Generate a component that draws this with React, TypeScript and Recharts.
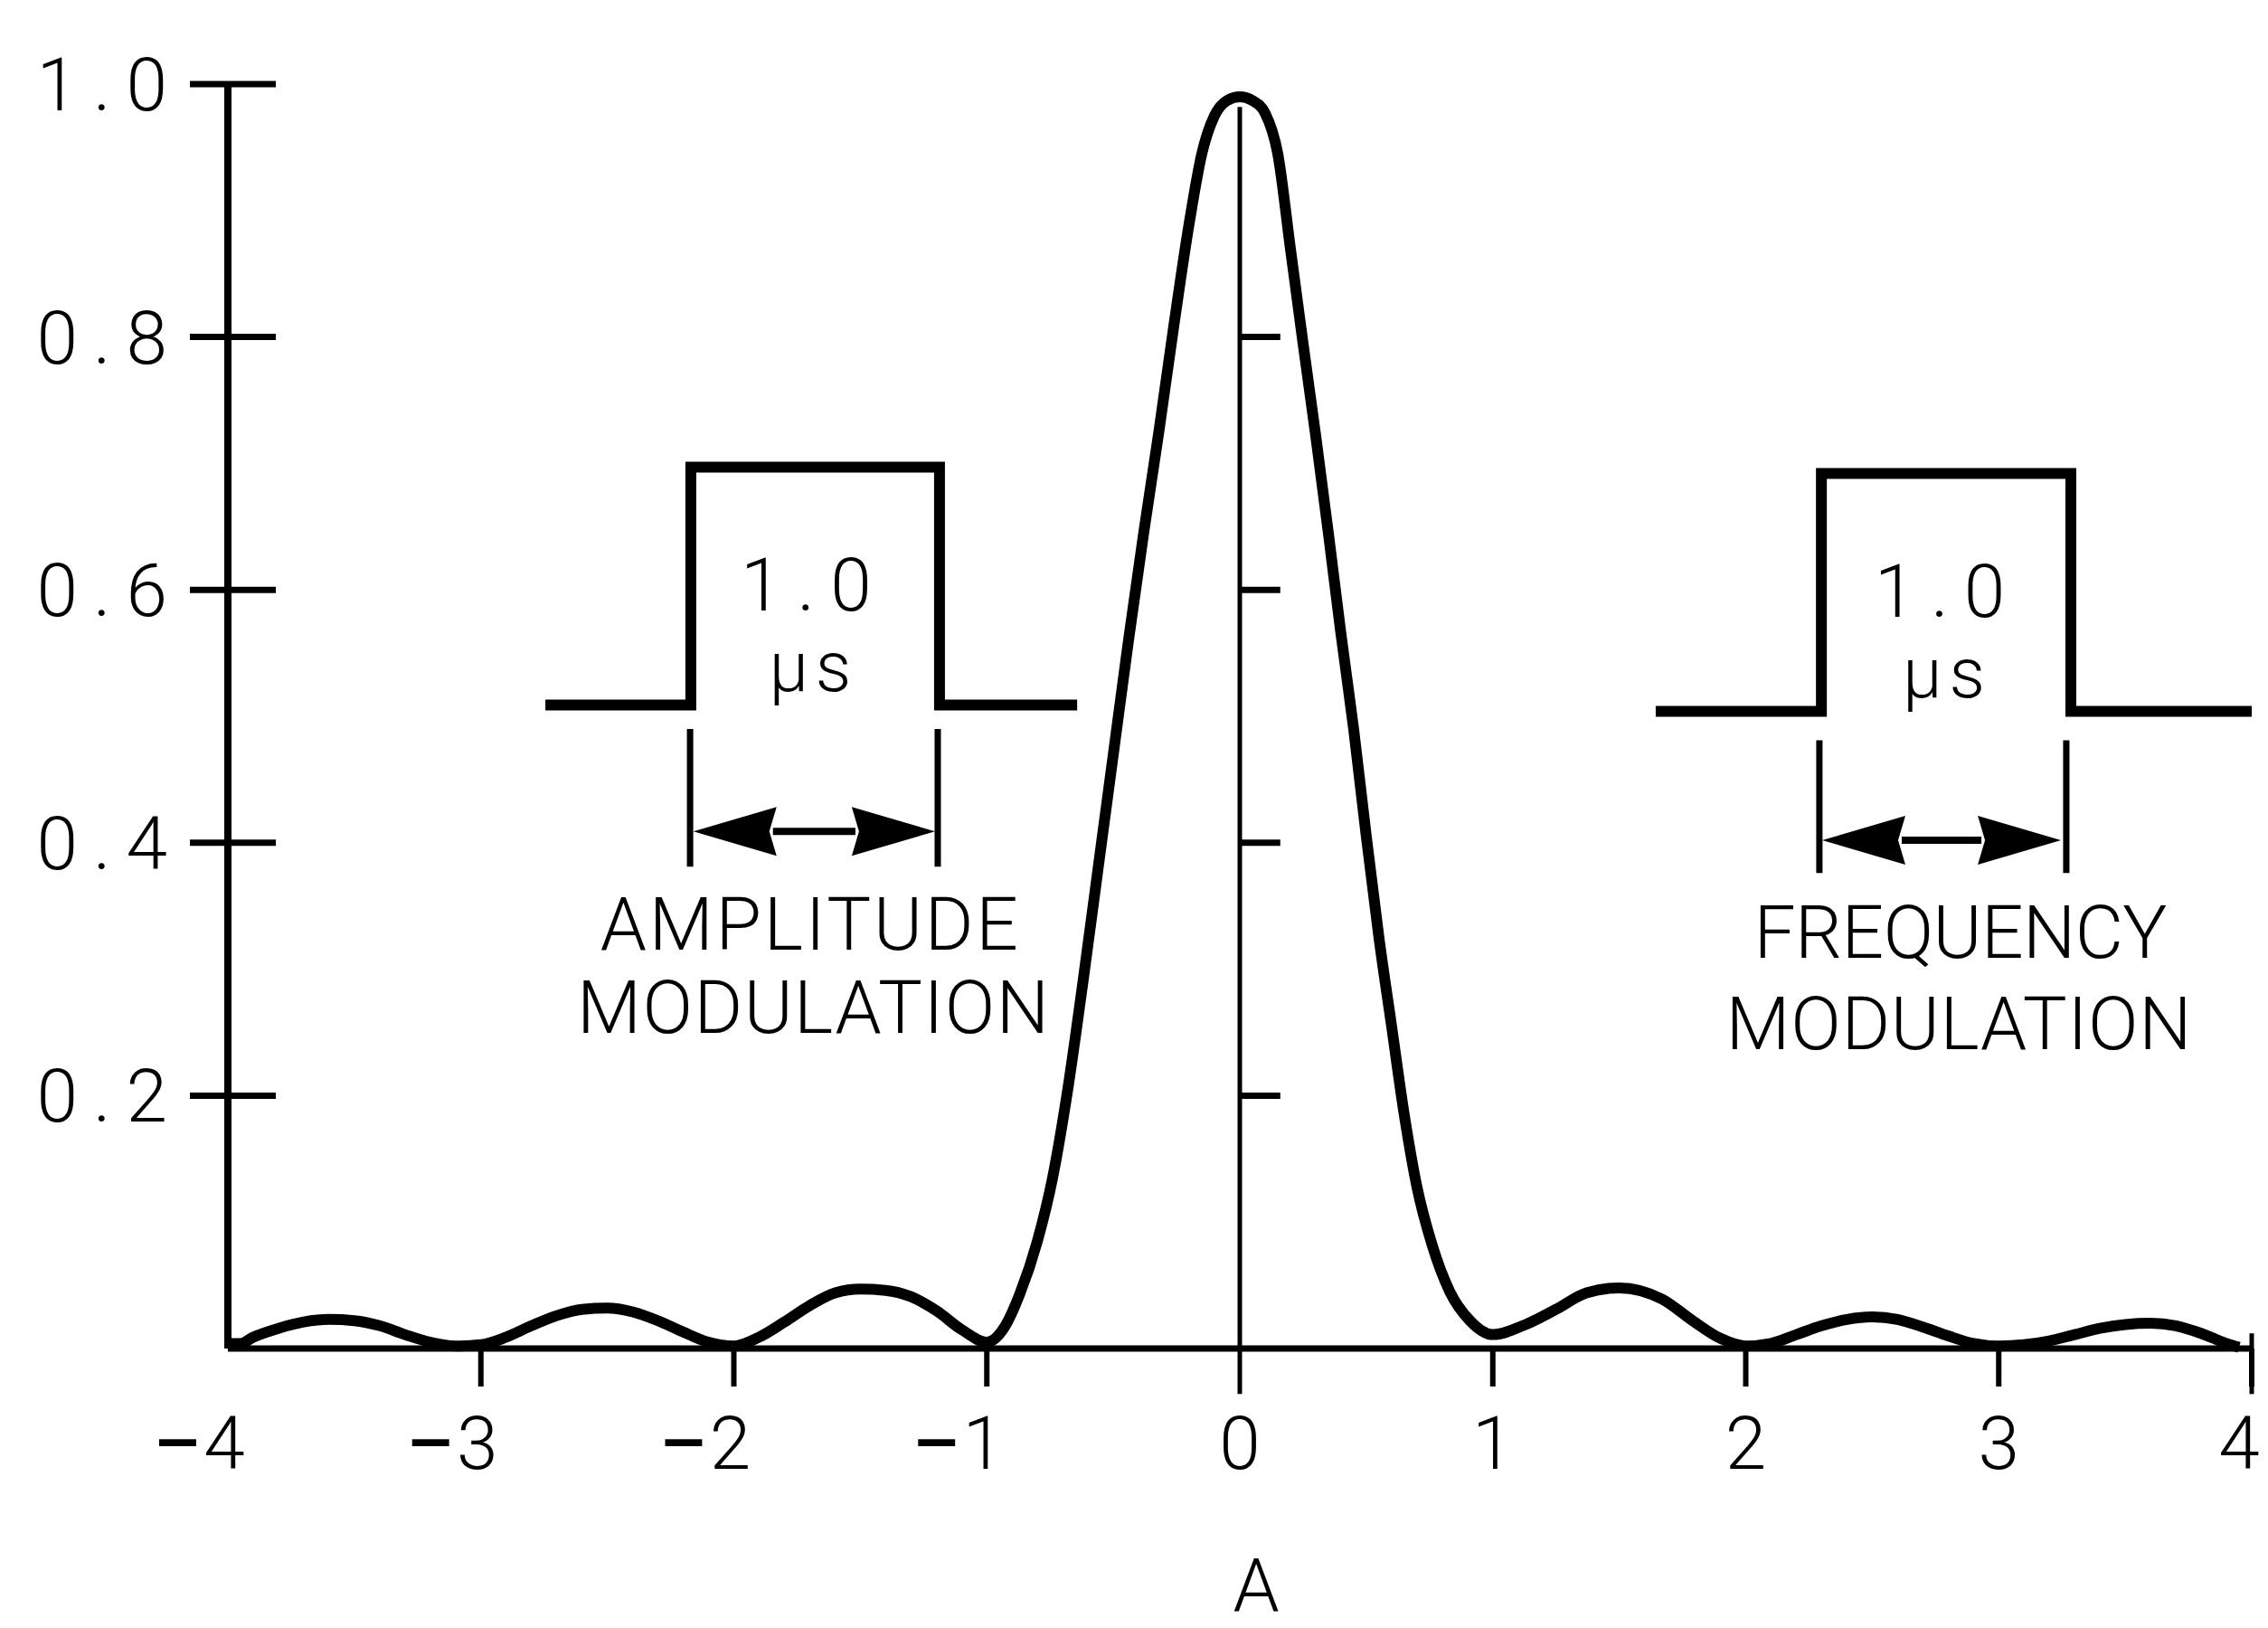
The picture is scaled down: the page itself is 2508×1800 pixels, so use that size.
import React from 'react';
import { LineChart, Line, XAxis, YAxis, ReferenceLine, ReferenceDot } from 'recharts';

// ---- data ----
const xTicks = [-4, -3, -2, -1, 0, 1, 2, 3, 4];
const yTicks = [0.2, 0.4, 0.6, 0.8, 1.0];

const delays = [
  -4.0, -3.95, -3.9, -3.8, -3.7, -3.6, -3.5, -3.4, -3.3, -3.2, -3.1, -3.0,
  -2.9, -2.8, -2.7, -2.6, -2.5, -2.4, -2.3, -2.2, -2.1, -2.0,
  -1.9, -1.8, -1.7, -1.6, -1.5, -1.4, -1.3, -1.2, -1.1, -1.0,
  -0.93, -0.87, -0.8, -0.74, -0.68, -0.62, -0.56, -0.5, -0.44, -0.38,
  -0.32, -0.26, -0.2, -0.15, -0.1, -0.05, 0.0,
  0.05, 0.1, 0.15, 0.2, 0.25, 0.3, 0.35, 0.4, 0.45, 0.5,
  0.55, 0.6, 0.65, 0.7, 0.76, 0.83, 0.91, 1.0,
  1.13, 1.25, 1.37, 1.5, 1.67, 1.79, 1.9, 2.0,
  2.1, 2.2, 2.3, 2.4, 2.5, 2.6, 2.7, 2.8, 2.9, 3.0,
  3.1, 3.2, 3.3, 3.4, 3.5, 3.6, 3.7, 3.8, 3.9, 3.95,
];
const response = [
  0.004, 0.004, 0.009, 0.016, 0.021, 0.023, 0.022, 0.018, 0.011, 0.005, 0.002, 0.003,
  0.009, 0.018, 0.026, 0.031, 0.032, 0.029, 0.022, 0.013, 0.005, 0.002,
  0.009, 0.021, 0.034, 0.044, 0.047, 0.046, 0.041, 0.03, 0.015, 0.005,
  0.017, 0.043, 0.085, 0.135, 0.205, 0.29, 0.38, 0.47, 0.56, 0.645,
  0.725, 0.81, 0.89, 0.945, 0.975, 0.987, 0.99,
  0.987, 0.977, 0.945, 0.87, 0.795, 0.722, 0.645, 0.565, 0.49, 0.405,
  0.325, 0.255, 0.185, 0.128, 0.082, 0.045, 0.022, 0.011,
  0.019, 0.031, 0.044, 0.048, 0.039, 0.022, 0.008, 0.002,
  0.004, 0.011, 0.018, 0.023, 0.025, 0.023, 0.017, 0.01, 0.004, 0.002,
  0.003, 0.006, 0.011, 0.016, 0.019, 0.02, 0.018, 0.012, 0.004, 0.001,
];

// pulse sketches (inset drawings)
const amPulseX = [-2.745, -2.17, -2.17, -1.187, -1.187, -0.643];
const amPulseY = [0.509, 0.509, 0.697, 0.697, 0.509, 0.509];
const fmPulseX = [1.644, 2.299, 2.299, 3.285, 3.285, 4.0];
const fmPulseY = [0.504, 0.504, 0.692, 0.692, 0.504, 0.504];

const centerTicks = [0.2, 0.4, 0.6, 0.8];

const data = delays.map((x, i) => ({ x, y: response[i] }));
const amPulse = amPulseX.map((x, i) => ({ x, p: amPulseY[i] }));
const fmPulse = fmPulseX.map((x, i) => ({ x, p: fmPulseY[i] }));

const FONT = 'Roboto, "DejaVu Sans", sans-serif';
const INK = '#000';

const textStyle = {
  fontFamily: FONT,
  fontWeight: 300,
  fontSize: 82,
  fill: INK,
} as const;

const YTick = (props: any) => {
  const { x, y, payload } = props;
  return (
    <g>
      <line x1={x - 42} x2={x + 53} y1={y} y2={y} stroke={INK} strokeWidth={7} />
      <text x={x - 50} y={y + 29} textAnchor="end" letterSpacing={17} {...textStyle}>
        {Number(payload.value).toFixed(1)}
      </text>
    </g>
  );
};

const XTick = (props: any) => {
  const { x, y, payload } = props;
  const v = Number(payload.value);
  const dx = v < 0 ? -4 : v === 4 ? -14 : 0;
  return (
    <g>
      {v !== -4 && v !== 0 && (
        <line x1={x} x2={x} y1={y} y2={y + 42} stroke={INK} strokeWidth={6} />
      )}
      <text x={x + dx} y={y + 133} textAnchor="middle" {...textStyle}>
        {Math.abs(v)}
      </text>
      {v < 0 && (
        <text x={x - 56} y={y + 133} textAnchor="middle" {...textStyle} fontWeight={500}>
          –
        </text>
      )}
    </g>
  );
};

const DoubleArrow = (p: any) => {
  const { x1, y1, x2, y2 } = p;
  const L = 92;
  const H = 27;
  return (
    <g>
      <line x1={x1 + L - 4} y1={y1} x2={x2 - L + 4} y2={y2} stroke={INK} strokeWidth={8} />
      <polygon points={`${x1},${y1} ${x1 + L},${y1 - H} ${x1 + L - 8},${y1} ${x1 + L},${y1 + H}`} fill={INK} />
      <polygon points={`${x2},${y2} ${x2 - L},${y2 - H} ${x2 - L + 8},${y2} ${x2 - L},${y2 + H}`} fill={INK} />
    </g>
  );
};

const makeText = (label: string, opts: { len?: number; ls?: number; size?: number } = {}) => (p: any) => (
  <text
    x={p.cx}
    y={p.cy}
    textAnchor="middle"
    {...textStyle}
    fontSize={opts.size ?? 82}
    letterSpacing={opts.ls}
    textLength={opts.len}
    lengthAdjust={opts.len ? 'spacing' : undefined}
  >
    {label}
  </text>
);

const AxisTitle = (props: any) => {
  const vb = props.viewBox || {};
  return (
    <text x={vb.x + vb.width / 2 + 18} y={vb.y + 290} textAnchor="middle" {...textStyle}>
      A
    </text>
  );
};

export default function App() {
  return (
    <div style={{ position: 'absolute', left: 0, top: 0, width: 2508, height: 1800, background: '#fff' }}>
      <LineChart width={2508} height={1800} data={data} margin={{ top: 93, right: 18, bottom: 279, left: 192 }}>
        <XAxis
          dataKey="x"
          type="number"
          domain={[-4, 4]}
          ticks={xTicks}
          interval={0}
          height={30}
          tickSize={0}
          tickMargin={0}
          tickLine={false}
          axisLine={{ stroke: INK, strokeWidth: 7 }}
          tick={<XTick />}
          label={{ content: <AxisTitle /> }}
        />
        <YAxis
          type="number"
          domain={[0, 1]}
          ticks={yTicks}
          interval={0}
          width={60}
          tickSize={0}
          tickMargin={0}
          tickLine={false}
          axisLine={{ stroke: INK, strokeWidth: 8 }}
          tick={<YTick />}
        />

        {/* centre line with its small ticks */}
        <ReferenceLine
          segment={[{ x: 0, y: -0.036 }, { x: 0, y: 0.982 }]}
          stroke={INK}
          strokeWidth={5}
          ifOverflow="visible"
        />
        {centerTicks.map((v) => (
          <ReferenceLine
            key={'ct' + v}
            segment={[{ x: 0, y: v }, { x: 0.16, y: v }]}
            stroke={INK}
            strokeWidth={7}
            ifOverflow="visible"
          />
        ))}
        <ReferenceLine
          segment={[{ x: 4, y: 0.012 }, { x: 4, y: -0.036 }]}
          stroke={INK}
          strokeWidth={5}
          ifOverflow="visible"
        />

        {/* AM inset */}
        <Line data={amPulse} dataKey="p" type="linear" stroke={INK} strokeWidth={12} strokeLinejoin="miter" dot={false} isAnimationActive={false} />
        <ReferenceLine segment={[{ x: -2.173, y: 0.49 }, { x: -2.173, y: 0.381 }]} stroke={INK} strokeWidth={7} ifOverflow="visible" />
        <ReferenceLine segment={[{ x: -1.194, y: 0.49 }, { x: -1.194, y: 0.381 }]} stroke={INK} strokeWidth={7} ifOverflow="visible" />
        <ReferenceLine segment={[{ x: -2.16, y: 0.409 }, { x: -1.205, y: 0.409 }]} shape={<DoubleArrow />} ifOverflow="visible" />
        <ReferenceDot x={-1.684} y={0.584} r={0} ifOverflow="visible" shape={makeText('1.0', { ls: 17 })} />
        <ReferenceDot x={-1.684} y={0.52} r={0} ifOverflow="visible" shape={makeText('μs', { ls: 8, size: 78 })} />
        <ReferenceDot x={-1.702} y={0.3155} r={0} ifOverflow="visible" shape={makeText('AMPLITUDE', { len: 462 })} />
        <ReferenceDot x={-1.687} y={0.2496} r={0} ifOverflow="visible" shape={makeText('MODULATION', { len: 522 })} />

        {/* FM inset */}
        <Line data={fmPulse} dataKey="p" type="linear" stroke={INK} strokeWidth={12} strokeLinejoin="miter" dot={false} isAnimationActive={false} />
        <ReferenceLine segment={[{ x: 2.291, y: 0.481 }, { x: 2.291, y: 0.376 }]} stroke={INK} strokeWidth={7} ifOverflow="visible" />
        <ReferenceLine segment={[{ x: 3.267, y: 0.481 }, { x: 3.267, y: 0.376 }]} stroke={INK} strokeWidth={7} ifOverflow="visible" />
        <ReferenceLine segment={[{ x: 2.302, y: 0.402 }, { x: 3.246, y: 0.402 }]} shape={<DoubleArrow />} ifOverflow="visible" />
        <ReferenceDot x={2.797} y={0.5787} r={0} ifOverflow="visible" shape={makeText('1.0', { ls: 17 })} />
        <ReferenceDot x={2.797} y={0.515} r={0} ifOverflow="visible" shape={makeText('μs', { ls: 8, size: 78 })} />
        <ReferenceDot x={2.849} y={0.309} r={0} ifOverflow="visible" shape={makeText('FREQUENCY', { len: 457 })} />
        <ReferenceDot x={2.842} y={0.2368} r={0} ifOverflow="visible" shape={makeText('MODULATION', { len: 515 })} />

        {/* main response curve */}
        <Line dataKey="y" type="monotone" stroke={INK} strokeWidth={12} dot={false} isAnimationActive={false} />
      </LineChart>
    </div>
  );
}
